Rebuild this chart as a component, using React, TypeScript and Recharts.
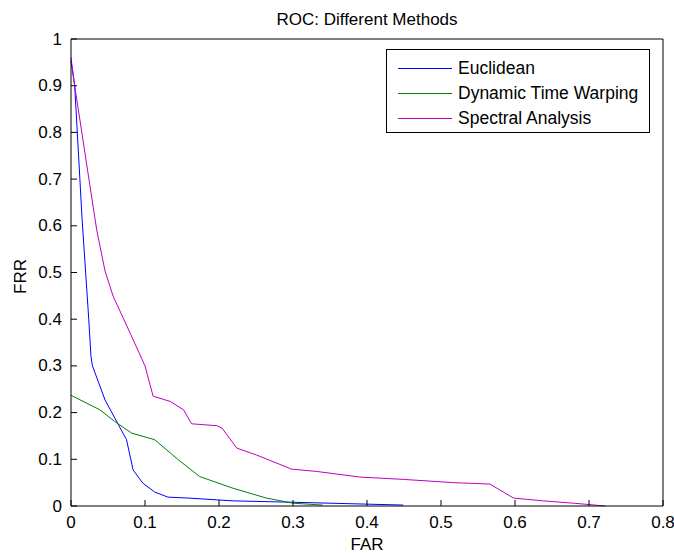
import { LineChart, Line, XAxis, YAxis, Legend, Label } from 'recharts'

const farTicks = [0, 0.1, 0.2, 0.3, 0.4, 0.5, 0.6, 0.7, 0.8]
const frrTicks = [0, 0.1, 0.2, 0.3, 0.4, 0.5, 0.6, 0.7, 0.8, 0.9, 1]

const euclideanFar = [0, 0.005, 0.012, 0.015, 0.024, 0.027, 0.029, 0.046, 0.075, 0.084, 0.097, 0.113, 0.131, 0.158, 0.219, 0.3, 0.449]
const euclideanFrr = [0.953, 0.9, 0.7, 0.614, 0.4, 0.32, 0.3, 0.227, 0.142, 0.077, 0.049, 0.03, 0.019, 0.017, 0.011, 0.008, 0.002]

const dtwFar = [0, 0.039, 0.059, 0.082, 0.113, 0.145, 0.174, 0.219, 0.264, 0.3, 0.34]
const dtwFrr = [0.237, 0.206, 0.181, 0.156, 0.142, 0.099, 0.063, 0.038, 0.017, 0.006, 0.002]

const spectralFar = [0, 0.005, 0.03, 0.035, 0.046, 0.057, 0.08, 0.1, 0.111, 0.134, 0.152, 0.163, 0.197, 0.204, 0.224, 0.251, 0.273, 0.298, 0.332, 0.39, 0.449, 0.517, 0.566, 0.598, 0.638, 0.679, 0.722]
const spectralFrr = [0.96, 0.9, 0.64, 0.589, 0.503, 0.449, 0.37, 0.3, 0.235, 0.224, 0.206, 0.176, 0.172, 0.167, 0.124, 0.109, 0.095, 0.079, 0.074, 0.062, 0.057, 0.05, 0.047, 0.017, 0.011, 0.006, 0]

const toPoints = (far: number[], frr: number[]) => far.map((x, i) => ({ far: x, frr: frr[i] }))

const series = [
  { name: 'Euclidean', color: '#0000ff', data: toPoints(euclideanFar, euclideanFrr) },
  { name: 'Dynamic Time Warping', color: '#008000', data: toPoints(dtwFar, dtwFrr) },
  { name: 'Spectral Analysis', color: '#bf00bf', data: toPoints(spectralFar, spectralFrr) },
]

const font = '"Liberation Sans", Arial, sans-serif'
const TICK = 6

// matlab style: tick marks point into the plot box
function BottomTick({ x, y, payload }: any) {
  return (
    <g>
      <line x1={x} y1={y} x2={x} y2={y - TICK} stroke="#000" />
      <text x={x} y={y + 22} textAnchor="middle" fontSize={17} fill="#000" fontFamily={font}>
        {payload.value}
      </text>
    </g>
  )
}

function LeftTick({ x, y, payload }: any) {
  return (
    <g>
      <line x1={x} y1={y} x2={x + TICK} y2={y} stroke="#000" />
      <text x={x - 9} y={y} textAnchor="end" dominantBaseline="central" fontSize={17} fill="#000" fontFamily={font}>
        {payload.value}
      </text>
    </g>
  )
}

const TopTick = ({ x, y }: any) => <line x1={x} y1={y} x2={x} y2={y + TICK} stroke="#000" />
const RightTick = ({ x, y }: any) => <line x1={x} y1={y} x2={x - TICK} y2={y} stroke="#000" />

function LegendBox({ payload }: any) {
  const order = series.map((s) => s.name)
  const items = [...(payload || [])].sort((a: any, b: any) => order.indexOf(a.value) - order.indexOf(b.value))
  return (
    <div
      style={{
        boxSizing: 'border-box',
        width: 264,
        height: 84,
        border: '1px solid #000',
        background: '#fff',
        paddingTop: 6,
        fontFamily: font,
      }}
    >
      {items.map((p: any) => (
        <div key={p.value} style={{ display: 'flex', alignItems: 'center', height: 25 }}>
          <span style={{ width: 54, borderTop: `1px solid ${p.color}`, marginLeft: 11, marginRight: 6 }} />
          <span style={{ fontSize: 17.5, color: '#000', lineHeight: '25px' }}>{p.value}</span>
        </div>
      ))}
    </div>
  )
}

function FrrLabel({ viewBox }: any) {
  const cx = 20
  const cy = viewBox.y + viewBox.height / 2 + 4
  return (
    <text x={cx} y={cy} transform={`rotate(-90 ${cx} ${cy})`} textAnchor="middle" dominantBaseline="central"
      fontSize={17} fill="#000" fontFamily={font}>
      FRR
    </text>
  )
}

export default function App() {
  return (
    <div style={{ position: 'absolute', left: 0, top: 0, width: 674, height: 553, background: '#fff', fontFamily: font }}>
      <LineChart width={674} height={553} margin={{ top: 38, right: 10, left: 0, bottom: 0 }}>
        <XAxis
          dataKey="far"
          type="number"
          domain={[0, 0.8]}
          ticks={farTicks}
          interval={0}
          allowDuplicatedCategory={false}
          height={47}
          tickSize={0}
          tickMargin={0}
          tickLine={false}
          tick={<BottomTick />}
          stroke="#000"
        >
          <Label value="FAR" position="insideBottom" offset={3} fontSize={17} fill="#000" fontFamily={font} />
        </XAxis>
        <XAxis
          xAxisId="top"
          orientation="top"
          type="number"
          domain={[0, 0.8]}
          ticks={farTicks}
          interval={0}
          height={1}
          tickSize={0}
          tickMargin={0}
          tickLine={false}
          tick={<TopTick />}
          stroke="#000"
        >
          <Label value="ROC: Different Methods" position="top" offset={13} fontSize={17} fill="#000" fontFamily={font} />
        </XAxis>
        <YAxis
          type="number"
          domain={[0, 1]}
          ticks={frrTicks}
          interval={0}
          width={71}
          tickSize={0}
          tickMargin={0}
          tickLine={false}
          tick={<LeftTick />}
          stroke="#000"
        >
          <Label content={<FrrLabel />} />
        </YAxis>
        <YAxis
          yAxisId="right"
          orientation="right"
          type="number"
          domain={[0, 1]}
          ticks={frrTicks}
          interval={0}
          width={1}
          tickSize={0}
          tickMargin={0}
          tickLine={false}
          tick={<RightTick />}
          stroke="#000"
        />
        <Legend
          layout="vertical"
          align="center"
          verticalAlign="middle"
          content={<LegendBox />}
          wrapperStyle={{ top: 49, left: 386, width: 264, height: 84 }}
        />
        {series.map((s) => (
          <Line
            key={s.name}
            data={s.data}
            dataKey="frr"
            name={s.name}
            type="linear"
            stroke={s.color}
            strokeWidth={1}
            dot={false}
            activeDot={false}
            isAnimationActive={false}
          />
        ))}
      </LineChart>
    </div>
  )
}
